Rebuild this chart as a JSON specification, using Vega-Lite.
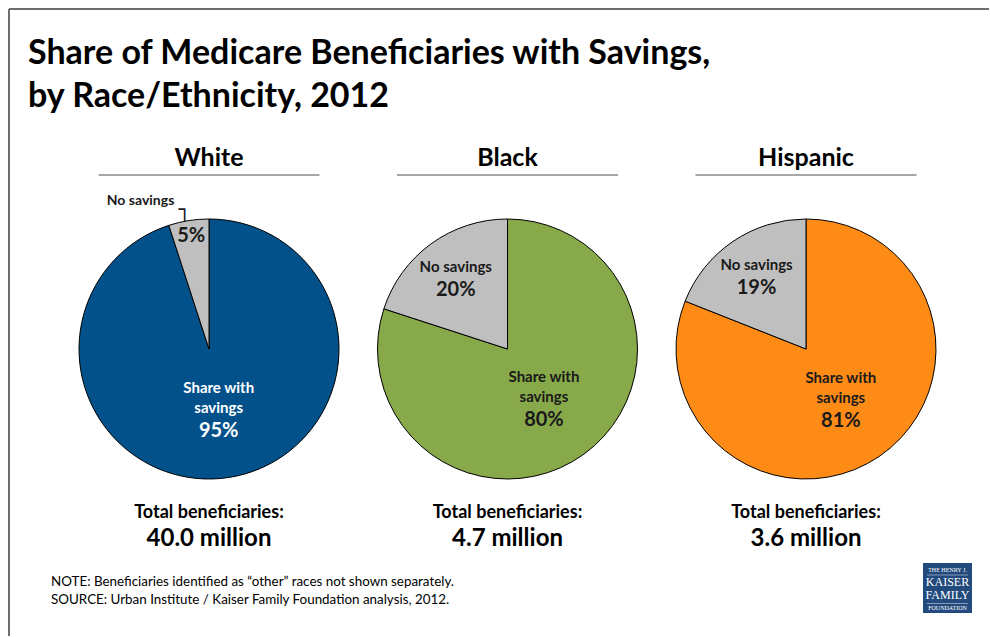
{
  "$schema": "https://vega.github.io/schema/vega-lite/v6.json",
  "width": 990,
  "height": 637,
  "autosize": {"type": "fit", "contains": "padding"},
  "padding": {"left": 8, "top": 8, "right": 0, "bottom": 0},
  "background": "white",
  "config": {"view": {"stroke": null}, "font": "Lato", "text": {"font": "Lato"}},
  "data": {"values": [{}]},
  "datasets": {
    "pies": [
      {"group": "White", "category": "Share with savings", "pct": 95, "label": "Share with\nsavings"},
      {"group": "White", "category": "No savings", "pct": 5, "label": "No savings"},
      {"group": "Black", "category": "Share with savings", "pct": 80, "label": "Share with\nsavings"},
      {"group": "Black", "category": "No savings", "pct": 20, "label": "No savings"},
      {"group": "Hispanic", "category": "Share with savings", "pct": 81, "label": "Share with\nsavings"},
      {"group": "Hispanic", "category": "No savings", "pct": 19, "label": "No savings"}
    ],
    "totals": [
      {"group": "White", "total": 40.0},
      {"group": "Black", "total": 4.7},
      {"group": "Hispanic", "total": 3.6}
    ]
  },
  "layer": [
    {"mark": {"type": "rule", "color": "#6E6E6E", "strokeWidth": 2}, "encoding": {"y": {"value": 0}}},
    {"mark": {"type": "rule", "color": "#6E6E6E", "strokeWidth": 2}, "encoding": {"x": {"value": 0}}},
    {
      "mark": {"type": "text", "text": ["Share of Medicare Beneficiaries with Savings,", "by Race/Ethnicity, 2012"], "fontSize": 34, "fontWeight": "bold", "align": "left", "baseline": "alphabetic", "lineHeight": 43, "color": "#000000"},
      "encoding": {"x": {"value": 19}, "y": {"value": 55}}
    },
    {
      "data": {"name": "totals"},
      "mark": {"type": "text", "fontSize": 25, "fontWeight": "bold", "baseline": "alphabetic", "color": "#000000"},
      "encoding": {
        "x": {"field": "group", "type": "nominal", "scale": {"type": "band", "domain": ["White", "Black", "Hispanic"], "range": [50.75, 946.25], "padding": 0}, "axis": null},
        "y": {"value": 157},
        "text": {"field": "group"}
      }
    },
    {
      "data": {"name": "totals"},
      "mark": {"type": "tick", "orient": "horizontal", "size": 221, "thickness": 1.5, "color": "#595959"},
      "encoding": {
        "x": {"field": "group", "type": "nominal", "scale": {"type": "band", "domain": ["White", "Black", "Hispanic"], "range": [50.75, 946.25], "padding": 0}, "axis": null},
        "y": {"value": 166}
      }
    },
    {
      "data": {"name": "pies"},
      "transform": [
        {"stack": "pct", "groupby": ["group"], "sort": [{"field": "category", "order": "descending"}], "as": ["v0", "v1"]}
      ],
      "mark": {"type": "arc", "outerRadius": 130, "stroke": "#000000", "strokeWidth": 1},
      "encoding": {
        "x": {"field": "group", "type": "nominal", "scale": {"type": "band", "domain": ["White", "Black", "Hispanic"], "range": [50.75, 946.25], "padding": 0}, "axis": null},
        "y": {"value": 340},
        "theta": {"field": "v0", "type": "quantitative", "stack": null, "scale": {"domain": [0, 100], "nice": false, "zero": false}},
        "theta2": {"field": "v1"},
        "color": {
          "condition": {"test": "datum.category === 'No savings'", "value": "#BFBFBF"},
          "field": "group", "type": "nominal",
          "scale": {"domain": ["White", "Black", "Hispanic"], "range": ["#02518A", "#87A94A", "#FE8B16"]},
          "legend": null
        }
      }
    },
    {
      "data": {"name": "pies"},
      "transform": [
        {"stack": "pct", "groupby": ["group"], "sort": [{"field": "category", "order": "descending"}], "as": ["v0", "v1"]},
        {"calculate": "(datum.v0 + datum.v1) / 2", "as": "mid"},
        {"calculate": "datum.pct + '%'", "as": "pctlabel"},
        {"filter": "datum.category === 'Share with savings'"}
      ],
      "layer": [
        {
          "mark": {"type": "text", "radius": 62, "dy": -22, "fontSize": 15, "fontWeight": "bold", "lineBreak": "\n", "lineHeight": 20},
          "encoding": {"text": {"field": "label"}, "color": {"condition": {"test": "datum.group === 'White'", "value": "#FFFFFF"}, "value": "#1A1A1A"}}
        },
        {
          "mark": {"type": "text", "radius": 62, "dy": 21, "fontSize": 20, "fontWeight": "bold"},
          "encoding": {"text": {"field": "pctlabel"}, "color": {"condition": {"test": "datum.group === 'White'", "value": "#FFFFFF"}, "value": "#1A1A1A"}}
        }
      ],
      "encoding": {
        "x": {"field": "group", "type": "nominal", "scale": {"type": "band", "domain": ["White", "Black", "Hispanic"], "range": [50.75, 946.25], "padding": 0}, "axis": null},
        "y": {"value": 340},
        "theta": {"field": "mid", "type": "quantitative", "stack": null, "scale": {"domain": [0, 100], "nice": false, "zero": false}}
      }
    },
    {
      "data": {"name": "pies"},
      "transform": [
        {"stack": "pct", "groupby": ["group"], "sort": [{"field": "category", "order": "descending"}], "as": ["v0", "v1"]},
        {"calculate": "(datum.v0 + datum.v1) / 2", "as": "mid"},
        {"calculate": "datum.pct + '%'", "as": "pctlabel"},
        {"filter": "datum.category === 'No savings'"}
      ],
      "layer": [
        {
          "transform": [{"filter": "datum.group !== 'White'"}],
          "mark": {"type": "text", "radius": 88, "dy": -11, "fontSize": 15, "fontWeight": "bold", "color": "#1A1A1A"},
          "encoding": {"text": {"field": "label"}}
        },
        {
          "transform": [{"filter": "datum.group !== 'White'"}],
          "mark": {"type": "text", "radius": 88, "dy": 12, "fontSize": 20, "fontWeight": "bold", "color": "#1A1A1A"},
          "encoding": {"text": {"field": "pctlabel"}}
        },
        {
          "transform": [{"filter": "datum.group === 'White'"}],
          "mark": {"type": "text", "radius": 114, "fontSize": 20, "fontWeight": "bold", "color": "#1A1A1A"},
          "encoding": {"text": {"field": "pctlabel"}}
        },
        {
          "transform": [{"filter": "datum.group === 'White'"}],
          "mark": {"type": "text", "radius": 150, "dx": -45, "fontSize": 14, "fontWeight": "bold", "color": "#1A1A1A"},
          "encoding": {"text": {"field": "label"}}
        },
        {
          "transform": [{"filter": "datum.group === 'White'"}],
          "mark": {"type": "text", "text": "\u2510", "font": "DejaVu Sans", "radius": 150, "dx": -1, "dy": 9, "fontSize": 20, "color": "#1A1A1A"},
          "encoding": {}
        }
      ],
      "encoding": {
        "x": {"field": "group", "type": "nominal", "scale": {"type": "band", "domain": ["White", "Black", "Hispanic"], "range": [50.75, 946.25], "padding": 0}, "axis": null},
        "y": {"value": 340},
        "theta": {"field": "mid", "type": "quantitative", "stack": null, "scale": {"domain": [0, 100], "nice": false, "zero": false}}
      }
    },
    {
      "data": {"name": "totals"},
      "mark": {"type": "text", "text": "Total beneficiaries:", "fontSize": 18, "fontWeight": "bold", "baseline": "alphabetic", "color": "#000000"},
      "encoding": {
        "x": {"field": "group", "type": "nominal", "scale": {"type": "band", "domain": ["White", "Black", "Hispanic"], "range": [50.75, 946.25], "padding": 0}, "axis": null},
        "y": {"value": 509}
      }
    },
    {
      "data": {"name": "totals"},
      "transform": [{"calculate": "format(datum.total, '.1f') + ' million'", "as": "totallabel"}],
      "mark": {"type": "text", "fontSize": 24, "fontWeight": "bold", "baseline": "alphabetic", "color": "#000000"},
      "encoding": {
        "x": {"field": "group", "type": "nominal", "scale": {"type": "band", "domain": ["White", "Black", "Hispanic"], "range": [50.75, 946.25], "padding": 0}, "axis": null},
        "y": {"value": 537},
        "text": {"field": "totallabel"}
      }
    },
    {
      "mark": {"type": "text", "text": ["NOTE: Beneficiaries identified as \u201cother\u201d races not shown separately.", "SOURCE: Urban Institute / Kaiser Family Foundation analysis, 2012."], "fontSize": 13.4, "align": "left", "baseline": "alphabetic", "lineHeight": 18, "color": "#000000"},
      "encoding": {"x": {"value": 42}, "y": {"value": 577}}
    },
    {
      "mark": {"type": "rect", "color": "#234A7C"},
      "encoding": {"x": {"value": 914}, "x2": {"value": 963}, "y": {"value": 554}, "y2": {"value": 604}}
    },
    {
      "mark": {"type": "rule", "color": "#C8D2E0", "strokeWidth": 0.6},
      "encoding": {"x": {"value": 918}, "x2": {"value": 959}, "y": {"value": 566}, "y2": {"value": 566}}
    },
    {
      "mark": {"type": "rule", "color": "#C8D2E0", "strokeWidth": 0.6},
      "encoding": {"x": {"value": 918}, "x2": {"value": 959}, "y": {"value": 594.5}, "y2": {"value": 594.5}}
    },
    {
      "mark": {"type": "text", "text": "THE HENRY J.", "font": "Liberation Serif", "fontSize": 6, "color": "#FFFFFF", "baseline": "middle"},
      "encoding": {"x": {"value": 938.5}, "y": {"value": 561}}
    },
    {
      "mark": {"type": "text", "text": "KAISER", "font": "Liberation Serif", "fontSize": 12, "color": "#FFFFFF", "baseline": "middle"},
      "encoding": {"x": {"value": 938.5}, "y": {"value": 573}}
    },
    {
      "mark": {"type": "text", "text": "FAMILY", "font": "Liberation Serif", "fontSize": 12, "color": "#FFFFFF", "baseline": "middle"},
      "encoding": {"x": {"value": 938.5}, "y": {"value": 586}}
    },
    {
      "mark": {"type": "text", "text": "FOUNDATION", "font": "Liberation Serif", "fontSize": 6, "color": "#FFFFFF", "baseline": "middle"},
      "encoding": {"x": {"value": 938.5}, "y": {"value": 599}}
    }
  ]
}
